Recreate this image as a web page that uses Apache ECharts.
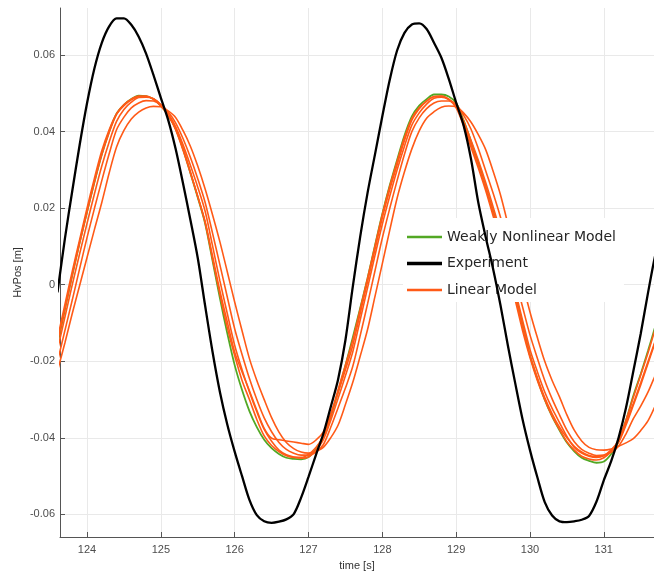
<!DOCTYPE html>
<html>
<head>
<meta charset="utf-8">
<script src="https://cdn.jsdelivr.net/npm/echarts@6/dist/echarts.min.js"></script>
<style>
html,body{margin:0;padding:0;background:#fff;}
#chart{width:654px;height:573px;}
</style>
</head>
<body>
<div id="chart"></div>
<script>
// Tick labels
const timeTicks = [124, 125, 126, 127, 128, 129, 130, 131];
const posTicks = [-0.06, -0.04, -0.02, 0, 0.02, 0.04, 0.06];

// Sample times [s]
const time = [123.6,123.7,123.8,123.9,124.0,124.1,124.2,124.3,124.4,124.5,124.6,124.7,124.8,124.9,125.0,125.1,125.2,125.3,125.4,125.5,125.6,125.7,125.8,125.9,126.0,126.1,126.2,126.3,126.4,126.5,126.6,126.7,126.8,126.9,127.0,127.1,127.2,127.3,127.4,127.5,127.6,127.7,127.8,127.9,128.0,128.1,128.2,128.3,128.4,128.5,128.6,128.7,128.8,128.9,129.0,129.1,129.2,129.3,129.4,129.5,129.6,129.7,129.8,129.9,130.0,130.1,130.2,130.3,130.4,130.5,130.6,130.7,130.8,130.9,131.0,131.1,131.2,131.3,131.4,131.5,131.6,131.7,131.8];

// HvPos [m] at those times
const experiment = [-0.002,0.012,0.0245,0.0365,0.0474,0.0565,0.0632,0.0675,0.0696,0.0696,0.0679,0.0648,0.0604,0.0548,0.0488,0.043,0.0355,0.0265,0.017,0.007,-0.0055,-0.0175,-0.028,-0.0365,-0.0436,-0.050,-0.0562,-0.0602,-0.0618,-0.0622,-0.0619,-0.0613,-0.0599,-0.0556,-0.0502,-0.0445,-0.039,-0.032,-0.0248,-0.0145,-0.0005,0.0125,0.024,0.034,0.044,0.0535,0.0612,0.0658,0.068,0.0683,0.0668,0.0632,0.0593,0.0538,0.0476,0.0417,0.033,0.0215,0.0125,0.0042,-0.0053,-0.0158,-0.0257,-0.0352,-0.0432,-0.0503,-0.0568,-0.0603,-0.0618,-0.062,-0.0618,-0.0614,-0.0604,-0.0567,-0.0511,-0.0461,-0.040,-0.0322,-0.0226,-0.0128,-0.002,0.008,0.015];
const weaklyNonlinear = [-0.0155,-0.0065,0.0025,0.011,0.019,0.0268,0.034,0.040,0.0447,0.047,0.0485,0.0494,0.0493,0.0485,0.0468,0.0443,0.0408,0.0355,0.0292,0.0228,0.016,0.0063,-0.0035,-0.0127,-0.021,-0.0275,-0.033,-0.0372,-0.0405,-0.0427,-0.0442,-0.0452,-0.0455,-0.0456,-0.045,-0.0429,-0.0397,-0.0345,-0.028,-0.0211,-0.0138,-0.0061,0.0017,0.0102,0.0185,0.0259,0.0326,0.039,0.044,0.0468,0.0485,0.0497,0.0497,0.0492,0.0475,0.043,0.0375,0.0318,0.0255,0.0192,0.0125,0.005,-0.0025,-0.0106,-0.0185,-0.0246,-0.030,-0.0344,-0.038,-0.0412,-0.0435,-0.0452,-0.046,-0.0465,-0.0462,-0.0442,-0.041,-0.0355,-0.029,-0.0233,-0.0172,-0.0107,-0.004];
const linearA = [-0.015,-0.0063,0.0025,0.0109,0.019,0.0268,0.034,0.0398,0.0445,0.0468,0.0483,0.0492,0.0493,0.0484,0.0467,0.0442,0.0408,0.0356,0.0295,0.023,0.0162,0.0068,-0.0026,-0.0112,-0.0185,-0.025,-0.030,-0.0352,-0.0395,-0.042,-0.0436,-0.0447,-0.0451,-0.0451,-0.0443,-0.0425,-0.0397,-0.0343,-0.0275,-0.021,-0.0144,-0.0064,0.0017,0.0101,0.0184,0.0257,0.0322,0.0385,0.0435,0.0463,0.048,0.0492,0.0493,0.0484,0.0462,0.0416,0.036,0.0305,0.0246,0.018,0.0111,0.0036,-0.004,-0.012,-0.019,-0.025,-0.030,-0.0343,-0.0378,-0.041,-0.0432,-0.0448,-0.0455,-0.0458,-0.0452,-0.0435,-0.0406,-0.0354,-0.0294,-0.0236,-0.0177,-0.0113,-0.005];
const linearB = [-0.017,-0.0085,0.0,0.0081,0.016,0.0237,0.031,0.0373,0.0427,0.0458,0.0477,0.0489,0.049,0.0486,0.047,0.0447,0.0413,0.0366,0.0312,0.0255,0.0192,0.0102,0.001,-0.0075,-0.0158,-0.0222,-0.028,-0.0332,-0.0378,-0.0409,-0.0432,-0.0444,-0.045,-0.0453,-0.045,-0.0432,-0.0405,-0.0355,-0.0297,-0.0238,-0.0175,-0.0092,-0.0008,0.0076,0.0158,0.0231,0.030,0.0362,0.0417,0.0449,0.0472,0.0487,0.049,0.0484,0.0468,0.0428,0.0378,0.0325,0.0267,0.0204,0.0138,0.0062,-0.0015,-0.0093,-0.0169,-0.0227,-0.028,-0.0323,-0.036,-0.0396,-0.0425,-0.044,-0.0448,-0.0451,-0.0447,-0.0433,-0.0412,-0.0367,-0.0315,-0.0262,-0.0205,-0.0148,-0.009];
const linearC = [-0.020,-0.012,-0.004,0.0042,0.0123,0.0199,0.0272,0.0342,0.0405,0.0438,0.0462,0.0475,0.0481,0.048,0.047,0.0451,0.0423,0.0382,0.0333,0.0277,0.0215,0.0135,0.0052,-0.0032,-0.0115,-0.0182,-0.0245,-0.030,-0.0348,-0.0384,-0.0412,-0.043,-0.044,-0.0445,-0.0445,-0.0437,-0.0418,-0.0373,-0.0322,-0.027,-0.0213,-0.0133,-0.005,0.0036,0.0122,0.0199,0.0272,0.0341,0.040,0.0436,0.046,0.0475,0.048,0.048,0.047,0.0443,0.0407,0.0356,0.0298,0.024,0.0177,0.0098,0.0016,-0.0058,-0.0131,-0.0192,-0.025,-0.0298,-0.034,-0.038,-0.041,-0.043,-0.044,-0.0446,-0.0445,-0.0438,-0.0422,-0.039,-0.035,-0.0317,-0.028,-0.0235,-0.019];
const linearD = [-0.0225,-0.0152,-0.0075,-0.0002,0.0071,0.0144,0.0215,0.0292,0.036,0.0403,0.0433,0.0451,0.0462,0.0466,0.0465,0.0454,0.0437,0.0403,0.0362,0.031,0.025,0.0183,0.0112,0.0034,-0.0045,-0.012,-0.0193,-0.025,-0.030,-0.0347,-0.0385,-0.0412,-0.0428,-0.0437,-0.044,-0.0435,-0.0425,-0.040,-0.0367,-0.0313,-0.0255,-0.0187,-0.0117,-0.0031,0.0055,0.0142,0.0226,0.0295,0.0355,0.0402,0.0435,0.0452,0.0464,0.0467,0.0465,0.0449,0.0425,0.0392,0.0353,0.0297,0.0235,0.0159,0.0078,0.0003,-0.0071,-0.0138,-0.020,-0.025,-0.0293,-0.034,-0.038,-0.0408,-0.0425,-0.0431,-0.0432,-0.0429,-0.0422,-0.0413,-0.0402,-0.0381,-0.0355,-0.0315,-0.027];
const linearE = [-0.014,-0.0052,0.0035,0.0118,0.020,0.0278,0.035,0.0405,0.0447,0.0471,0.0485,0.0493,0.0492,0.0486,0.047,0.0443,0.0405,0.0352,0.0292,0.0231,0.0165,0.0075,-0.0016,-0.0097,-0.0176,-0.0228,-0.0277,-0.0328,-0.0375,-0.0401,-0.0405,-0.0408,-0.0411,-0.0414,-0.0417,-0.0406,-0.0385,-0.0338,-0.0282,-0.0222,-0.0158,-0.0075,0.0008,0.0092,0.0175,0.0248,0.0313,0.0377,0.043,0.046,0.048,0.0491,0.0492,0.0485,0.0468,0.0423,0.0367,0.0313,0.0255,0.019,0.0123,0.0047,-0.003,-0.0108,-0.0185,-0.0243,-0.0295,-0.0337,-0.0372,-0.040,-0.0422,-0.0437,-0.0446,-0.0449,-0.0446,-0.0431,-0.0408,-0.0362,-0.031,-0.0256,-0.020,-0.0145,-0.009];

const linearRuns = [linearA, linearB, linearC, linearD, linearE];

const ORANGE = '#ff5a17';
const GREEN = '#52a824';
const BLACK = '#000000';

function pairs(values) {
  return time.map(function (t, i) { return [t, values[i]]; });
}

function lineSeries(name, values, color, width, z) {
  return {
    name: name, type: 'line', data: pairs(values), smooth: 0.3,
    symbol: 'none', showSymbol: false, clip: true, z: z,
    lineStyle: { color: color, width: width },
    itemStyle: { color: color },
    emphasis: { disabled: true }
  };
}

const series = [lineSeries('Weakly Nonlinear Model', weaklyNonlinear, GREEN, 1.8, 2)];
linearRuns.forEach(function (run) {
  series.push(lineSeries('Linear Model', run, ORANGE, 1.6, 3));
});
series.push(lineSeries('Experiment', experiment, BLACK, 2.3, 4));

const labelFont = 'Liberation Sans, Arial, sans-serif';

const chart = echarts.init(document.getElementById('chart'), null, { renderer: 'canvas' });
chart.setOption({
  animation: false,
  backgroundColor: '#ffffff',
  grid: { left: 60, right: 0, top: 8, bottom: 36, containLabel: false, outerBoundsMode: 'none' },
  legend: {
    orient: 'vertical', left: 403, top: 218,
    backgroundColor: '#ffffff',
    padding: [12, 8, 5, 4],
    itemWidth: 35, itemHeight: 14, itemGap: 12.5,
    selectedMode: false,
    textStyle: { fontFamily: 'DejaVu Sans, Verdana, sans-serif', fontSize: 14, color: '#262626' },
    data: [
      { name: 'Weakly Nonlinear Model', icon: 'path://M0,0H35V2.5H0Z' },
      { name: 'Experiment', icon: 'path://M0,0H35V3.5H0Z' },
      { name: 'Linear Model', icon: 'path://M0,0H35V2.5H0Z' }
    ]
  },
  xAxis: {
    type: 'value', min: 123.634, max: 131.68,
    name: 'time [s]', nameLocation: 'middle', nameGap: 29, nameMoveOverlap: false,
    nameTextStyle: { fontFamily: labelFont, fontSize: 11, color: '#333', verticalAlign: 'middle' },
    axisLine: { show: true, onZero: false, lineStyle: { color: '#555', width: 1 } },
    axisTick: { show: true, inside: true, length: 5, customValues: timeTicks, lineStyle: { color: '#555' } },
    axisLabel: { customValues: timeTicks, fontFamily: labelFont, fontSize: 11, color: '#4d4d4d', margin: 7 },
    splitLine: { show: true, lineStyle: { color: '#e9e9e9', width: 1 } }
  },
  yAxis: {
    type: 'value', min: -0.0659, max: 0.0723,
    name: 'HvPos [m]', nameLocation: 'middle', nameGap: 42, nameRotate: 90, nameMoveOverlap: false,
    nameTextStyle: { fontFamily: labelFont, fontSize: 11, color: '#333', verticalAlign: 'middle' },
    axisLine: { show: true, onZero: false, lineStyle: { color: '#555', width: 1 } },
    axisTick: { show: true, inside: true, length: 5, customValues: posTicks, lineStyle: { color: '#555' } },
    axisLabel: { customValues: posTicks, fontFamily: labelFont, fontSize: 11, color: '#4d4d4d', margin: 5 },
    splitLine: { show: true, lineStyle: { color: '#e9e9e9', width: 1 } }
  },
  series: series
});
</script>
</body>
</html>
